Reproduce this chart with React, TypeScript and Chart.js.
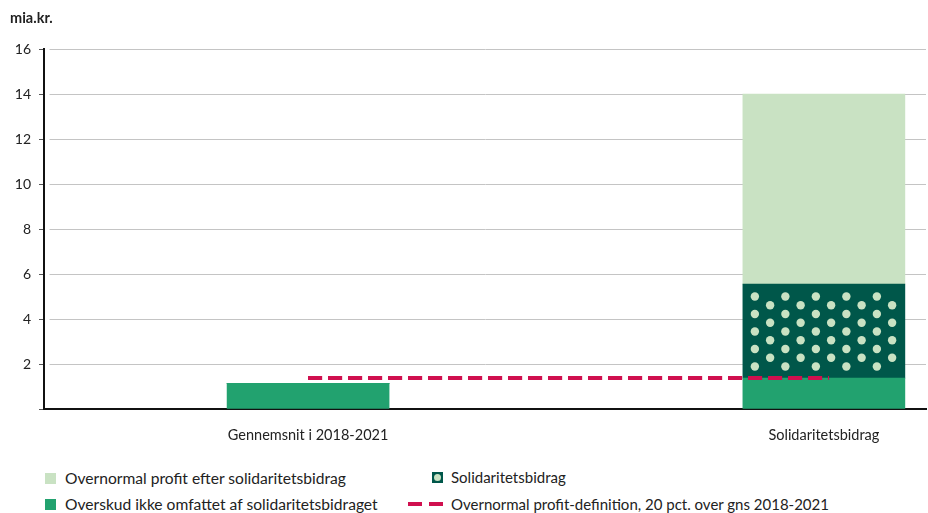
import React, { useEffect, useRef } from "react";
import { Chart, registerables } from "chart.js";

Chart.register(...registerables);

const categories = ["Gennemsnit i 2018-2021", "Solidaritetsbidrag"];
const categoryPositions = [0, 1];
const overskud = [1.14, 1.37];
const solidaritetsbidrag = [0, 4.18];
const overnormalEfter = [0, 8.45];
const profitDefinition = [1.38, 1.38];
const yTicks = [0, 2, 4, 6, 8, 10, 12, 14, 16];

const C_LIGHT = "#c9e2c3";
const C_GREEN = "#22a26f";
const C_DARK = "#00574a";
const C_DASH = "#d0104f";
const FONT = "Lato, 'Open Sans', sans-serif";

const dotsPlugin = {
  id: "dots",
  afterDatasetsDraw(chart: any) {
    const meta = chart.getDatasetMeta(1);
    const ctx = chart.ctx;
    ctx.save();
    ctx.fillStyle = C_LIGHT;
    meta.data.forEach((el: any) => {
      const p = el.getProps(["x", "y", "base", "width"], true);
      const top = Math.min(p.y, p.base);
      const bottom = Math.max(p.y, p.base);
      if (bottom - top < 2) return;
      const left = p.x - p.width / 2;
      const r = 4.2;
      const colStep = 15.25;
      const rowStep = 17.5;
      for (let c = 0; c < 10; c++) {
        const cx = left + 12 + c * colStep;
        let cy = top + 12.3 + (c % 2 === 1 ? rowStep / 2 : 0);
        while (cy + r + 1 <= bottom) {
          ctx.beginPath();
          ctx.arc(cx, cy, r, 0, Math.PI * 2);
          ctx.fill();
          cy += rowStep;
        }
      }
    });
    const lineMeta = chart.getDatasetMeta(3);
    if (lineMeta && lineMeta.dataset) lineMeta.dataset.draw(ctx, chart.chartArea);
    ctx.restore();
  },
  beforeDatasetsDraw(chart: any) {
    const ctx = chart.ctx;
    const a = chart.chartArea;
    ctx.save();
    ctx.fillStyle = "#fff";
    ctx.fillRect(a.left + 1, a.top - 1, 4.5, a.bottom - a.top);
    ctx.restore();
  },
};

export default function App() {
  const ref = useRef<HTMLCanvasElement>(null);

  useEffect(() => {
    if (!ref.current) return;
    const chart = new Chart(ref.current, {
      type: "bar",
      data: {
        datasets: [
          {
            label: "Overskud ikke omfattet af solidaritetsbidraget",
            data: categoryPositions.map((x, i) => ({ x, y: overskud[i] })),
            backgroundColor: C_GREEN,
            barThickness: 162,
            order: 1,
          },
          {
            label: "Solidaritetsbidrag",
            data: categoryPositions.map((x, i) => ({ x, y: solidaritetsbidrag[i] })),
            backgroundColor: C_DARK,
            barThickness: 162,
            order: 1,
          },
          {
            label: "Overnormal profit efter solidaritetsbidrag",
            data: categoryPositions.map((x, i) => ({ x, y: overnormalEfter[i] })),
            backgroundColor: C_LIGHT,
            barThickness: 162,
            order: 1,
          },
          {
            type: "line",
            label: "Overnormal profit-definition, 20 pct. over gns 2018-2021",
            data: categoryPositions.map((x, i) => ({ x: x === 1 ? 1.01 : x, y: profitDefinition[i] })),
            borderColor: C_DASH,
            borderWidth: 4,
            borderDash: [14, 6],
            pointRadius: 0,
            fill: false,
            order: 0,
          },
        ],
      },
      options: {
        animation: false,
        responsive: false,
        layout: { padding: { top: 49, right: 2, left: 0, bottom: 0 } },
        plugins: {
          legend: { display: false },
          tooltip: { enabled: false },
        },
        scales: {
          x: {
            type: "linear",
            min: -0.512,
            max: 1.198,
            offset: false,
            bounds: "data",
            stacked: true,
            grid: { display: false, drawTicks: false, offset: false },
            border: { display: true, color: "#111", width: 2 },
            afterDataLimits: (scale: any) => {
              scale.min = -0.512;
              scale.max = 1.198;
            },
            afterBuildTicks: (scale: any) => {
              scale.ticks = categoryPositions.map((v) => ({ value: v }));
            },
            afterFit: (scale: any) => {
              scale.height = 43;
            },
            ticks: {
              padding: 18,
              color: "#222",
              font: { family: FONT, size: 14.5 },
              callback: (v: any) => categories[categoryPositions.indexOf(Number(v))] ?? "",
            },
          },
          y: {
            min: 0,
            max: 16,
            stacked: true,
            afterBuildTicks: (scale: any) => {
              scale.ticks = yTicks.map((v) => ({ value: v }));
            },
            afterFit: (scale: any) => {
              scale.width = 44;
            },
            grid: { color: "#c4c4c4", tickColor: "#555", tickLength: 5, lineWidth: 1 },
            border: { display: true, color: "#111", width: 2 },
            ticks: {
              padding: 8,
              color: "#222",
              font: { family: FONT, size: 14 },
              callback: (v: any) => (Number(v) === 0 ? "" : String(v)),
            },
          },
        },
      },
      plugins: [dotsPlugin],
    } as any);
    return () => chart.destroy();
  }, []);

  const textStyle: React.CSSProperties = {
    position: "absolute",
    fontFamily: FONT,
    fontSize: 15.6,
    color: "#222",
    lineHeight: "18px",
    whiteSpace: "nowrap",
  };

  return (
    <div style={{ position: "fixed", left: 0, top: 0, width: 928, height: 513, background: "#fff" }}>
      <div style={{ ...textStyle, left: 10, top: 9, fontWeight: 700, fontSize: 14.5 }}>mia.kr.</div>
      <canvas ref={ref} width={928} height={452} style={{ display: "block" }} />
      {/* legend */}
      <div style={{ position: "absolute", left: 45, top: 473, width: 11, height: 11, background: C_LIGHT }} />
      <div style={{ ...textStyle, left: 65, top: 469 }}>Overnormal profit efter solidaritetsbidrag</div>
      <div style={{ position: "absolute", left: 45, top: 499, width: 11, height: 11, background: C_GREEN }} />
      <div style={{ ...textStyle, left: 65, top: 495 }}>Overskud ikke omfattet af solidaritetsbidraget</div>
      <div
        style={{
          position: "absolute",
          left: 432,
          top: 472,
          width: 11,
          height: 11,
          background: C_DARK,
          display: "flex",
          alignItems: "center",
          justifyContent: "center",
        }}
      >
        <div style={{ width: 7, height: 7, borderRadius: "50%", background: C_LIGHT }} />
      </div>
      <div style={{ ...textStyle, fontSize: 15, left: 451, top: 468 }}>Solidaritetsbidrag</div>
      <div style={{ position: "absolute", left: 408, top: 502, width: 14, height: 4, background: C_DASH }} />
      <div style={{ position: "absolute", left: 429, top: 502, width: 14, height: 4, background: C_DASH }} />
      <div style={{ ...textStyle, fontSize: 15, left: 451, top: 495 }}>Overnormal profit-definition, 20 pct. over gns 2018-2021</div>
    </div>
  );
}
